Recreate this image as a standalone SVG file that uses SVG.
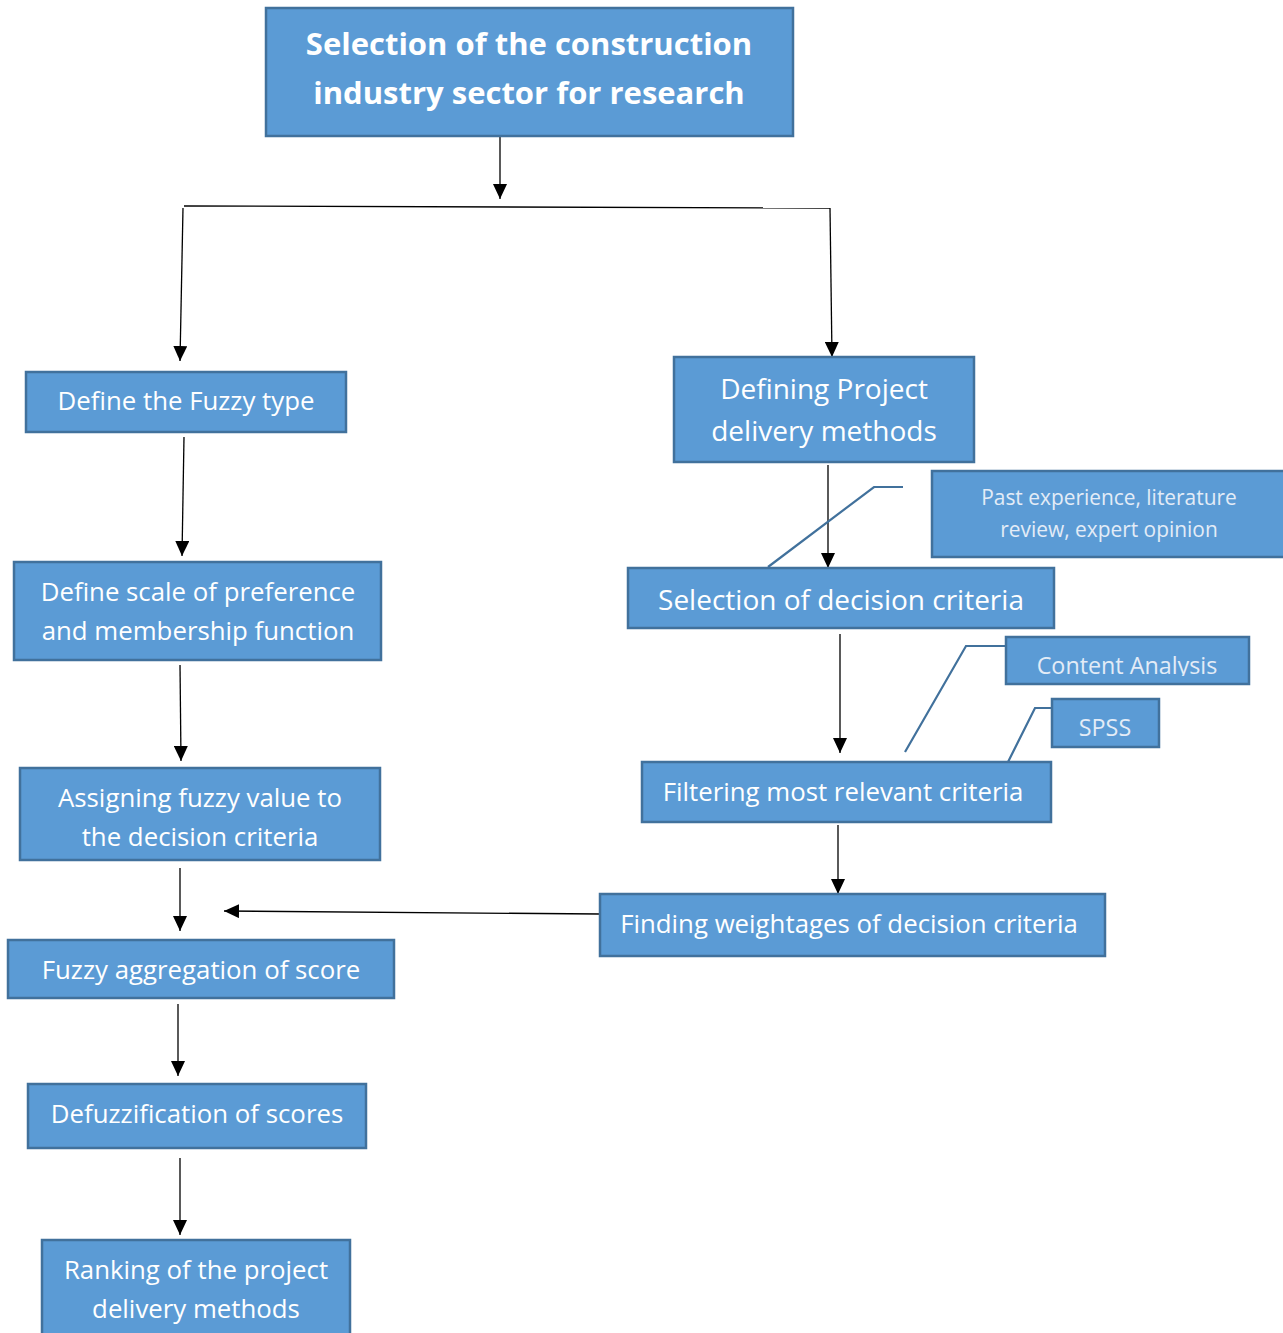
<svg xmlns="http://www.w3.org/2000/svg" width="1283" height="1333" viewBox="0 0 1283 1333">
<style>
.box{fill:#5B9BD5;stroke:#41719C;stroke-width:2.5}
.t{font-family:"Open Sans","Noto Sans",sans-serif;font-size:25.8px;fill:#ffffff;text-anchor:middle}
.tl{font-family:"Open Sans","Noto Sans",sans-serif;font-size:28px;fill:#ffffff;text-anchor:middle}
.tb{font-family:"Open Sans","Noto Sans",sans-serif;font-size:31px;font-weight:bold;fill:#ffffff;text-anchor:middle}
.tc{font-family:"Open Sans","Noto Sans",sans-serif;font-size:20.9px;fill:#E3ECF7;text-anchor:middle}
.tc2{font-family:"Open Sans","Noto Sans",sans-serif;font-size:23.3px;fill:#E3ECF7;text-anchor:middle}
.c{fill:none;stroke:#000;stroke-width:1.3}
.co{fill:none;stroke:#41719C;stroke-width:2.2}
</style>
<defs>
<marker id="ah" markerWidth="15" markerHeight="14" refX="15" refY="7" orient="auto" markerUnits="userSpaceOnUse">
<path d="M0,0 L15,7 L0,14 Z" fill="#000"/>
</marker>
<clipPath id="clipCA"><rect x="1006" y="637" width="243" height="39"/></clipPath>
</defs>

<g id="connectors">
<line class="c" x1="500" y1="137" x2="500" y2="199" marker-end="url(#ah)"/>
<line class="c" x1="184" y1="206" x2="830" y2="208"/>
<line class="c" x1="183" y1="208" x2="180" y2="361" marker-end="url(#ah)"/>
<line class="c" x1="830" y1="208" x2="832" y2="357" marker-end="url(#ah)"/>
<line class="c" x1="184" y1="437" x2="182" y2="556" marker-end="url(#ah)"/>
<line class="c" x1="180" y1="665" x2="181" y2="761" marker-end="url(#ah)"/>
<line class="c" x1="180" y1="868" x2="180" y2="931" marker-end="url(#ah)"/>
<line class="c" x1="178" y1="1004" x2="178" y2="1076" marker-end="url(#ah)"/>
<line class="c" x1="180" y1="1158" x2="180" y2="1235" marker-end="url(#ah)"/>
<line class="c" x1="828" y1="465" x2="828" y2="568" marker-end="url(#ah)"/>
<line class="c" x1="840" y1="634" x2="840" y2="753" marker-end="url(#ah)"/>
<line class="c" x1="838" y1="825" x2="838" y2="894" marker-end="url(#ah)"/>
<line class="c" x1="600" y1="914" x2="224" y2="911" marker-end="url(#ah)"/>
<polyline class="co" points="768,567 874,487 903,487"/>
<polyline class="co" points="905,752 966,646 1006,646"/>
<polyline class="co" points="1008,762 1035,708 1052,708"/>
</g>

<g id="n-top">
<rect class="box" x="266" y="8" width="527" height="128"/>
<text class="tb" x="529" y="55">Selection of the construction</text>
<text class="tb" x="529" y="104">industry sector for research</text>
</g>
<g id="n-fuzzytype">
<rect class="box" x="26" y="372" width="320" height="60"/>
<text class="t" x="186" y="410">Define the Fuzzy type</text>
</g>
<g id="n-pdm">
<rect class="box" x="674" y="357" width="300" height="105"/>
<text class="tl" x="824" y="399">Defining Project</text>
<text class="tl" x="824" y="441">delivery methods</text>
</g>
<g id="n-scale">
<rect class="box" x="14" y="562" width="367" height="98"/>
<text class="t" x="198" y="601">Define scale of preference</text>
<text class="t" x="198" y="640">and membership function</text>
</g>
<g id="n-assign">
<rect class="box" x="20" y="768" width="360" height="92"/>
<text class="t" x="200" y="807">Assigning fuzzy value to</text>
<text class="t" x="200" y="846">the decision criteria</text>
</g>
<g id="n-agg">
<rect class="box" x="8" y="940" width="386" height="58"/>
<text class="t" x="201" y="979">Fuzzy aggregation of score</text>
</g>
<g id="n-defuzz">
<rect class="box" x="28" y="1084" width="338" height="64"/>
<text class="t" x="197" y="1123">Defuzzification of scores</text>
</g>
<g id="n-rank">
<rect class="box" x="42" y="1240" width="308" height="100"/>
<text class="t" x="196" y="1279">Ranking of the project</text>
<text class="t" x="196" y="1318">delivery methods</text>
</g>
<g id="n-past">
<rect class="box" x="932" y="471" width="353" height="86"/>
<text class="tc" x="1109" y="505">Past experience, literature</text>
<text class="tc" x="1109" y="537">review, expert opinion</text>
</g>
<g id="n-selcrit">
<rect class="box" x="628" y="568" width="426" height="60"/>
<text class="tl" x="841" y="610">Selection of decision criteria</text>
</g>
<g id="n-content">
<rect class="box" x="1006" y="637" width="243" height="47"/>
<text class="tc2" x="1127" y="674" clip-path="url(#clipCA)">Content Analysis</text>
</g>
<g id="n-spss">
<rect class="box" x="1052" y="699" width="107" height="48"/>
<text class="tc2" x="1105" y="736">SPSS</text>
</g>
<g id="n-filter">
<rect class="box" x="642" y="762" width="409" height="60"/>
<text class="t" x="843" y="801">Filtering most relevant criteria</text>
</g>
<g id="n-weight">
<rect class="box" x="600" y="894" width="505" height="62"/>
<text class="t" x="849" y="933">Finding weightages of decision criteria</text>
</g>
</svg>
